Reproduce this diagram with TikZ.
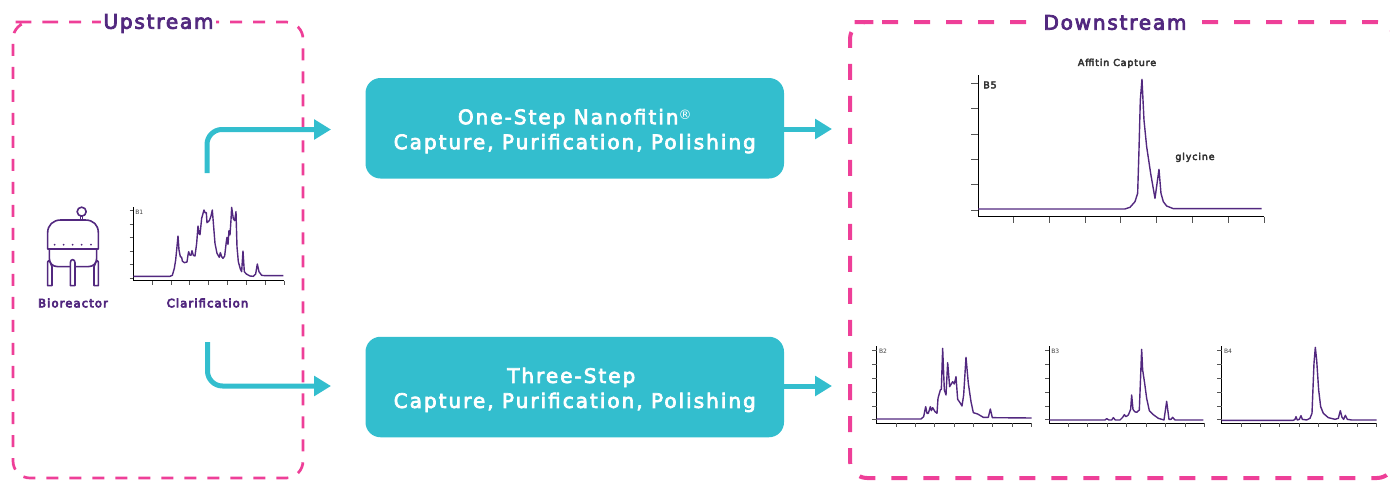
\documentclass[tikz,border=0pt]{standalone}
\usepackage{fontspec}
\usetikzlibrary{arrows.meta}
\setmainfont{DejaVu Sans}
\newfontfamily\titlefont[LetterSpace=9,FakeBold=4]{DejaVu Sans}
\newfontfamily\boxfont[LetterSpace=10,FakeBold=3.5]{DejaVu Sans}
\newfontfamily\regfont{DejaVu Sans}
\newfontfamily\capfont[LetterSpace=10,FakeBold=6]{DejaVu Sans}
\newfontfamily\lblfont[LetterSpace=9,FakeBold=4]{DejaVu Sans}
\definecolor{pinkc}{HTML}{EE3F98}
\definecolor{purp}{HTML}{52287F}
\definecolor{teal2}{HTML}{33BECE}
\definecolor{tickc}{HTML}{555555}
\tikzset{
  zone/.style={draw=pinkc,rounded corners=17pt},
  zonelabel/.style={fill=white,text=purp,inner ysep=1pt,font=\titlefont\fontsize{20}{20}\selectfont},
  procbox/.style={fill=teal2,rounded corners=15pt,minimum width=418.5pt,minimum height=100.5pt,inner sep=0pt,text=white,align=center,font=\boxfont\fontsize{20}{25}\selectfont},
  flow/.style={draw=teal2,line width=5pt,-{Triangle[length=17pt,width=19.5pt]}},
  axisl/.style={draw=black,line width=1pt},
  tickl/.style={draw=tickc,line width=.8pt},
  trace/.style={draw=purp,line width=1.4pt,line join=round},
  vessel/.style={draw=purp,line width=1.6pt,line join=round},
  caption/.style={text=purp,inner sep=0pt,font=\capfont\fontsize{11.5}{12}\selectfont},
  plotlabel/.style={text=black!75,inner sep=0pt,font=\fontsize{6}{6}\selectfont},
  peaklabel/.style={text=black!80,inner sep=0pt,font=\lblfont\fontsize{9.5}{10}\selectfont}
}
\begin{document}
\begin{tikzpicture}[x=1pt,y=-1pt]
\useasboundingbox (0,0) rectangle (1390,480);
% zones
\draw[zone,line width=2.7pt,dash pattern=on 12pt off 11pt]
  (29,22) -- (303,22) -- (303,478) -- (13,478) -- (13,22) -- cycle;
\draw[zone,line width=4pt,dash pattern=on 16pt off 16pt]
  (865,22) -- (1394,22) -- (1394,478) -- (850,478) -- (850,22) -- cycle;
\node[zonelabel,inner xsep=2pt] (up) at (158.5,23.5) {Upstream};
\node[zonelabel,inner xsep=8pt] (down) at (1115,22.5) {Downstream};
% boxes
\node[procbox] (one) at (574.75,128.25) {\rule{0pt}{21pt}One-Step Nanofitin\raisebox{5pt}{\regfont\fontsize{13}{13}\selectfont ®}\\Capture, Purification, Polishing};
\node[procbox] (three) at (574.75,387) {\rule{0pt}{21pt}Three-Step\hspace*{7pt}\\Capture, Purification, Polishing};
% arrows
\coordinate (u1) at (207,173);
\coordinate (u1e) at (331,129.5);
\coordinate (u2) at (207.5,342);
\coordinate (u2e) at (331,386);
\coordinate (d1) at (832,129);
\coordinate (d2) at (832,386);
\draw[flow,rounded corners=15pt] (u1) |- (u1e);
\draw[flow,rounded corners=15pt] (u2) |- (u2e);
\draw[flow] (one.east |- d1) -- (d1);
\draw[flow] (three.east |- d2) -- (d2);
% bioreactor
\begin{scope}[shift={(30,200)},x=0.3333pt,y=-0.3333pt]
  \draw[vessel] (155,35) circle (4.5pt);
  \draw[vessel] (152,49) -- (152,60) (158,49) -- (158,60);
  \draw[vessel] (53,147) -- (53,98) .. controls (53,75) and (70,60) .. (92,60) -- (166,60) .. controls (190,60) and (205,75) .. (205,98) -- (205,147) -- cycle;
  \draw[vessel] (58,147) -- (58,175) .. controls (58,190) and (68,200) .. (84,200) -- (174,200) .. controls (190,200) and (200,190) .. (200,175) -- (200,147);
  \draw[vessel,fill=white] (53,257) -- (53,186) .. controls (53,181) and (58,181) .. (60,186) -- (66,200) -- (66,257) -- cycle;
  \draw[vessel,fill=white] (121,257) -- (121,188) .. controls (121,176) and (135,176) .. (135,188) -- (135,257) -- cycle;
  \draw[vessel,fill=white] (192,257) -- (192,200) -- (198,186) .. controls (200,181) and (205,181) .. (205,186) -- (205,257) -- cycle;
  \foreach \dx in {74,101,128,155,183} \fill[purp] (\dx,134) circle (1pt);
\end{scope}
\node[caption] (bio) at (73,303) {Bioreactor};
\node[caption] (cla) at (207.5,303) {Clarification};
% B1
\begin{scope}[shift={(125,200)},x=0.3333pt,y=-0.3333pt]
  \draw[axisl] (25,22) -- (25,243) -- (478,243);
  \foreach \t in {32,72,113,153,193,234} \draw[tickl] (14,\t) -- (25,\t);
  \foreach \t in {82,138,194,250,307,363,420,477} \draw[tickl] (\t,243) -- (\t,254);
  \draw[trace] plot coordinates {(25,229)(135,229)(142,226)(148,205)(152,180)(156,140)(159,108)(162,150)(166,170)(170,172)(172,183)(178,188)(186,186)(189,165)(191,155)(194,165)(198,166)(201,152)(205,166)(210,168)(215,130)(219,78)(222,100)(225,104)(230,55)(237,30)(240,38)(244,38)(246,68)(253,62)(258,48)(262,30)(266,80)(270,130)(276,160)(283,172)(286,158)(290,170)(294,175)(299,168)(304,125)(306,112)(309,133)(312,92)(315,105)(318,60)(320,22)(325,56)(329,62)(333,35)(336,140)(340,185)(346,207)(350,215)(354,153)(358,215)(364,222)(375,228)(385,229)(392,222)(397,192)(402,215)(410,226)(420,227)(475,227)};
  \node[plotlabel] (b1) at (43,36) {B1};
\end{scope}
% B5
\begin{scope}[shift={(960,50)},x=0.3333pt,y=-0.3333pt]
  \draw[axisl] (54,76) -- (54,500) -- (912,500);
  \foreach \t in {100,176,252,328,404,481} \draw[tickl] (33,\t) -- (54,\t);
  \foreach \t in {161,268,376,482,590,697,804,912} \draw[tickl] (\t,500) -- (\t,520);
  \draw[trace] plot coordinates {(54,477)(495,477)(510,472)(525,455)(533,430)(537,300)(541,150)(546,88)(552,210)(560,290)(572,370)(585,445)(597,358)(603,430)(610,455)(620,468)(640,476)(905,476)};
  \node[peaklabel] (b5) at (90,105) {B5};
  \node[peaklabel] (aff) at (471,40) {Affitin Capture};
  \node[peaklabel] (gly) at (705,322) {glycine};
\end{scope}
% B2
\begin{scope}[shift={(865,340)},x=0.3333pt,y=-0.3333pt]
  \draw[axisl] (35,18) -- (35,250) -- (500,250);
  \foreach \t in {32,73,115,156,198,239} \draw[tickl] (22,\t) -- (35,\t);
  \foreach \t in {93,151,209,267,325,383,442,500} \draw[tickl] (\t,250) -- (\t,262);
  \draw[trace] plot coordinates {(35,237)(168,237)(176,230)(182,200)(186,220)(190,220)(196,200)(199,212)(203,203)(210,215)(216,220)(219,175)(226,150)(229,148)(233,25)(238,150)(243,165)(248,68)(254,140)(263,125)(268,132)(273,110)(278,178)(285,188)(291,198)(296,165)(303,52)(310,130)(318,185)(325,218)(338,222)(355,232)(370,232)(376,207)(382,233)(500,234)};
  \node[plotlabel] (b2) at (54,35) {B2};
\end{scope}
% B3
\begin{scope}[shift={(1040,340)},x=0.3333pt,y=-0.3333pt]
  \draw[axisl] (27,18) -- (27,250) -- (493,250);
  \foreach \t in {32,73,114,156,198,239} \draw[tickl] (15,\t) -- (27,\t);
  \foreach \t in {85,143,201,260,318,376,435,493} \draw[tickl] (\t,250) -- (\t,262);
  \draw[trace] plot coordinates {(27,240)(195,240)(200,236)(207,240)(215,240)(220,233)(226,240)(240,240)(248,232)(253,224)(258,230)(265,225)(272,208)(275,165)(279,208)(284,215)(290,217)(298,210)(303,80)(305,28)(308,90)(314,130)(320,175)(328,212)(340,224)(355,235)(372,240)(380,184)(387,238)(393,238)(398,232)(405,240)(490,240)};
  \node[plotlabel] (b3) at (46,35) {B3};
\end{scope}
% B4
\begin{scope}[shift={(1210,340)},x=0.3333pt,y=-0.3333pt]
  \draw[axisl] (35,18) -- (35,250) -- (500,250);
  \foreach \t in {32,73,115,156,198,239} \draw[tickl] (22,\t) -- (35,\t);
  \foreach \t in {93,151,209,267,325,383,442,500} \draw[tickl] (\t,250) -- (\t,262);
  \draw[trace] plot coordinates {(35,241)(250,241)(255,238)(258,230)(262,240)(268,238)(273,227)(277,238)(290,240)(300,235)(306,220)(312,70)(316,22)(320,60)(326,150)(332,200)(340,220)(355,233)(375,238)(385,235)(391,212)(396,232)(401,238)(406,226)(412,238)(425,240)(500,240)};
  \node[plotlabel] (b4) at (54,35) {B4};
\end{scope}
\end{tikzpicture}
\end{document}
